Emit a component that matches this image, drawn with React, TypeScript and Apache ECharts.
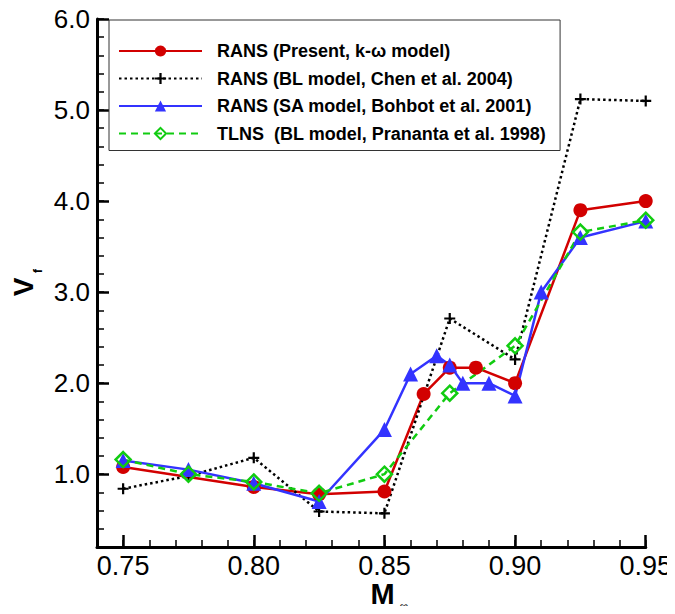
import React, { useEffect, useRef } from "react";
import * as echarts from "echarts";

// ---- data ----
const seriesNames = [
  "RANS (Present, k-\u03c9 model)",
  "RANS (BL model, Chen et al. 2004)",
  "RANS (SA model, Bohbot et al. 2001)",
  "TLNS  (BL model, Prananta et al. 1998)",
];

const presentX = [0.75, 0.8, 0.825, 0.85, 0.865, 0.875, 0.885, 0.9, 0.925, 0.95];
const presentY = [1.08, 0.86, 0.78, 0.81, 1.88, 2.17, 2.17, 2.0, 3.9, 4.0];

const chenX = [0.75, 0.775, 0.8, 0.825, 0.85, 0.875, 0.9, 0.925, 0.95];
const chenY = [0.84, 0.98, 1.18, 0.59, 0.57, 2.71, 2.26, 5.12, 5.1];

const bohbotX = [0.75, 0.775, 0.8, 0.825, 0.85, 0.86, 0.87, 0.875, 0.88, 0.89, 0.9, 0.91, 0.925, 0.95];
const bohbotY = [1.15, 1.05, 0.9, 0.7, 1.49, 2.1, 2.3, 2.2, 2.0, 2.0, 1.86, 3.0, 3.6, 3.78];

const prananataX = [0.75, 0.775, 0.8, 0.825, 0.85, 0.875, 0.9, 0.925, 0.95];
const prananataY = [1.16, 1.0, 0.915, 0.79, 1.0, 1.89, 2.41, 3.66, 3.79];

const xMajorTicks = [0.75, 0.8, 0.85, 0.9, 0.95];
const yMajorTicks = [1, 2, 3, 4, 5, 6];

const zip = (xs: number[], ys: number[]) => xs.map((x, i) => [x, ys[i]]);

const FONT = "Liberation Sans, Arial, Helvetica, sans-serif";
const PLUS = "path://M4,0H6V4H10V6H6V10H4V6H0V4H4Z";

export default function App() {
  const ref = useRef<HTMLDivElement>(null);
  useEffect(() => {
    if (!ref.current) return;
    const chart = echarts.init(ref.current, null, { renderer: "svg" });
    const red = "#d20000";
    const blue = "#3333ff";
    const green = "#11cc11";
    chart.setOption({
      animation: false,
      backgroundColor: "#fff",
      grid: { left: 97, right: 25, top: 19, bottom: 67 },
      legend: {
        orient: "vertical",
        left: 109,
        top: 20,
        padding: [21, 14, 7, 9],
        itemWidth: 83,
        itemHeight: 14,
        itemGap: 7.5,
        borderColor: "#333",
        borderWidth: 1,
        backgroundColor: "#fff",
        textStyle: {
          fontFamily: FONT,
          fontWeight: "bold",
          fontSize: 18,
          lineHeight: 20,
          color: "#000",
          padding: [0, 0, 0, 10],
        },
        data: seriesNames,
      },
      xAxis: [
        {
          type: "value",
          min: 0.74,
          max: 0.95,
          interval: 0.01,
          position: "bottom",
          axisLine: { show: true, onZero: false, lineStyle: { color: "#000", width: 3 } },
          axisTick: { show: true, inside: true, length: 7, lineStyle: { color: "#000", width: 1.5 } },
          axisLabel: {
            customValues: xMajorTicks,
            formatter: (v: number) => v.toFixed(2),
            fontSize: 27,
            fontFamily: FONT,
            color: "#000",
            margin: 5,
          },
          splitLine: { show: false },
        },
        {
          type: "value",
          min: 0.74,
          max: 0.95,
          position: "bottom",
          axisLine: { show: false },
          axisTick: { show: true, inside: true, length: 12, customValues: xMajorTicks, lineStyle: { color: "#000", width: 2.5 } },
          axisLabel: { show: false },
          splitLine: { show: false },
        },
      ],
      yAxis: [
        {
          type: "value",
          min: 0.2,
          max: 6.0,
          interval: 0.2,
          position: "left",
          axisLine: { show: true, onZero: false, lineStyle: { color: "#000", width: 3 } },
          axisTick: { show: true, inside: true, length: 7, lineStyle: { color: "#000", width: 1.5 } },
          axisLabel: {
            customValues: yMajorTicks,
            formatter: (v: number) => v.toFixed(1),
            fontSize: 26,
            fontFamily: FONT,
            color: "#000",
            margin: 7,
          },
          splitLine: { show: false },
        },
        {
          type: "value",
          min: 0.2,
          max: 6.0,
          position: "left",
          axisLine: { show: false },
          axisTick: { show: true, inside: true, length: 12, customValues: yMajorTicks, lineStyle: { color: "#000", width: 2.5 } },
          axisLabel: { show: false },
          splitLine: { show: false },
        },
      ],
      graphic: [
        {
          type: "text",
          x: 23.5,
          y: 287,
          rotation: Math.PI / 2,
          style: { text: "V", font: `bold 28px ${FONT}`, fill: "#000", align: "center", verticalAlign: "middle" },
        },
        {
          type: "text",
          x: 38,
          y: 271,
          rotation: Math.PI / 2,
          style: { text: "f", font: `bold 12px ${FONT}`, fill: "#000", align: "center", verticalAlign: "middle" },
        },
        {
          type: "text",
          x: 382.5,
          y: 594,
          style: { text: "M", font: `bold 29px ${FONT}`, fill: "#000", align: "center", verticalAlign: "middle" },
        },
        {
          type: "text",
          x: 404,
          y: 606,
          style: { text: "\u221e", font: `12px ${FONT}`, fill: "#000", align: "center", verticalAlign: "middle" },
        },
      ],
      series: [
        {
          name: seriesNames[0],
          type: "line",
          xAxisIndex: 0,
          yAxisIndex: 0,
          data: zip(presentX, presentY),
          symbol: "circle",
          symbolSize: 14,
          itemStyle: { color: red },
          lineStyle: { color: red, width: 2.5 },
        },
        {
          name: seriesNames[1],
          type: "line",
          xAxisIndex: 0,
          yAxisIndex: 0,
          data: zip(chenX, chenY),
          symbol: PLUS,
          symbolSize: 11,
          itemStyle: { color: "#000" },
          lineStyle: { color: "#000", width: 2.5, type: [2.5, 3] },
        },
        {
          name: seriesNames[2],
          type: "line",
          xAxisIndex: 0,
          yAxisIndex: 0,
          data: zip(bohbotX, bohbotY),
          symbol: "triangle",
          symbolSize: 15,
          itemStyle: { color: blue },
          lineStyle: { color: blue, width: 2.5 },
        },
        {
          name: seriesNames[3],
          type: "line",
          xAxisIndex: 0,
          yAxisIndex: 0,
          data: zip(prananataX, prananataY),
          symbol: "diamond",
          symbolSize: 15,
          itemStyle: { color: "rgba(255,255,255,0)", borderColor: green, borderWidth: 2.5 },
          lineStyle: { color: green, width: 2.5, type: [7, 5] },
        },
      ],
    });
    return () => chart.dispose();
  }, []);
  return <div ref={ref} style={{ width: 675, height: 614, margin: -8 }} />;
}
